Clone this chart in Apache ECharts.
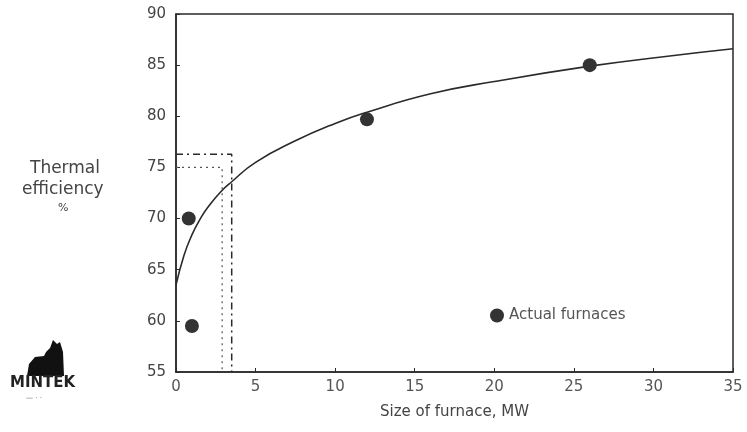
<!DOCTYPE html>
<html>
<head>
<meta charset="utf-8">
<script src="https://cdn.jsdelivr.net/npm/echarts@6/dist/echarts.min.js"></script>
<style>
html,body{margin:0;padding:0;background:#fff;}
#c{width:747px;height:432px;}
</style>
</head>
<body>
<div id="c"></div>
<script>
// Data
const curveX = [0, 0.5, 1, 1.5, 2, 2.8, 3.5, 5, 7.5, 10, 12, 16, 20, 26, 30.5, 35];
const curveY = [63.5, 66.4, 68.4, 69.9, 71.1, 72.6, 73.6, 75.5, 77.6, 79.3, 80.4, 82.2, 83.4, 84.9, 85.8, 86.6];
const furnaceX = [0.8, 1, 12, 26];
const furnaceY = [70, 59.5, 79.7, 85];
const guideUpperX = [0, 3.5, 3.5];
const guideUpperY = [76.3, 76.3, 55];
const guideLowerX = [0, 2.9, 2.9];
const guideLowerY = [75, 75, 55];
const xTicks = [0, 5, 10, 15, 20, 25, 30, 35];
const yTicks = [55, 60, 65, 70, 75, 80, 85, 90];

const zip = (a, b) => a.map((v, i) => [v, b[i]]);
const ink = '#2a2a2a';
const font = 'DejaVu Sans';

const chart = echarts.init(document.getElementById('c'), null, {renderer: 'canvas'});
chart.setOption({
  animation: false,
  backgroundColor: '#fff',
  grid: {left: 176, right: 14, top: 14, bottom: 60, show: true, borderColor: ink, borderWidth: 1.5},
  xAxis: {
    type: 'value', min: xTicks[0], max: xTicks[xTicks.length - 1], interval: 5,
    name: 'Size of furnace, MW', nameLocation: 'middle', nameGap: 33,
    nameTextStyle: {color: '#444', fontSize: 15, fontFamily: font},
    axisLine: {show: true, lineStyle: {color: ink, width: 1.5}},
    axisTick: {show: true, inside: true, length: 4, lineStyle: {color: ink}},
    axisLabel: {color: '#555', fontSize: 15, fontFamily: font, margin: 8},
    splitLine: {show: false}
  },
  yAxis: {
    type: 'value', min: yTicks[0], max: yTicks[yTicks.length - 1], interval: 5,
    axisLine: {show: true, lineStyle: {color: ink, width: 1.5}},
    axisTick: {show: true, inside: true, length: 4, lineStyle: {color: ink}},
    axisLabel: {color: '#444', fontSize: 15, fontFamily: font, margin: 10},
    splitLine: {show: false}
  },
  legend: {
    left: 485, top: 303, itemWidth: 14, itemHeight: 14, itemGap: 8,
    textStyle: {color: '#555', fontSize: 15, fontFamily: font},
    data: [{name: 'Actual furnaces', icon: 'circle'}]
  },
  graphic: [
    {type: 'text', left: 30, top: 160, style: {text: 'Thermal', fill: '#444', font: '17px DejaVu Sans'}},
    {type: 'text', left: 22, top: 181, style: {text: 'efficiency', fill: '#444', font: '17px DejaVu Sans'}},
    {type: 'text', left: 58, top: 203, style: {text: '%', fill: '#444', font: '11px DejaVu Sans'}},
    {type: 'polygon', shape: {points: [[27,376],[29,364],[35,357],[44,356],[46,352],[50,348],[53,340],[57,344],[60,342],[63,352],[64,376]]}, style: {fill: '#111'}},
    {type: 'text', left: 10, top: 376, style: {text: 'MINTEK', fill: '#222', font: 'bold 15px DejaVu Sans'}},
    {type: 'text', left: 26, top: 395, style: {text: '— · ·', fill: '#666', font: '7px DejaVu Sans'}}
  ],
  series: [
    {
      type: 'line', name: 'curve', data: zip(curveX, curveY), smooth: 0.5, showSymbol: false,
      lineStyle: {color: ink, width: 1.6}, z: 3
    },
    {
      type: 'line', name: 'guideUpper', data: zip(guideUpperX, guideUpperY), showSymbol: false,
      lineStyle: {color: ink, width: 1.5, type: [7, 4, 2, 4]}, z: 2
    },
    {
      type: 'line', name: 'guideLower', data: zip(guideLowerX, guideLowerY), showSymbol: false,
      lineStyle: {color: '#555', width: 1.2, type: [2, 4]}, z: 2
    },
    {
      type: 'scatter', name: 'Actual furnaces', data: zip(furnaceX, furnaceY), symbol: 'circle', symbolSize: 14,
      itemStyle: {color: '#333', opacity: 1}, z: 4
    }
  ]
});
</script>
</body>
</html>
